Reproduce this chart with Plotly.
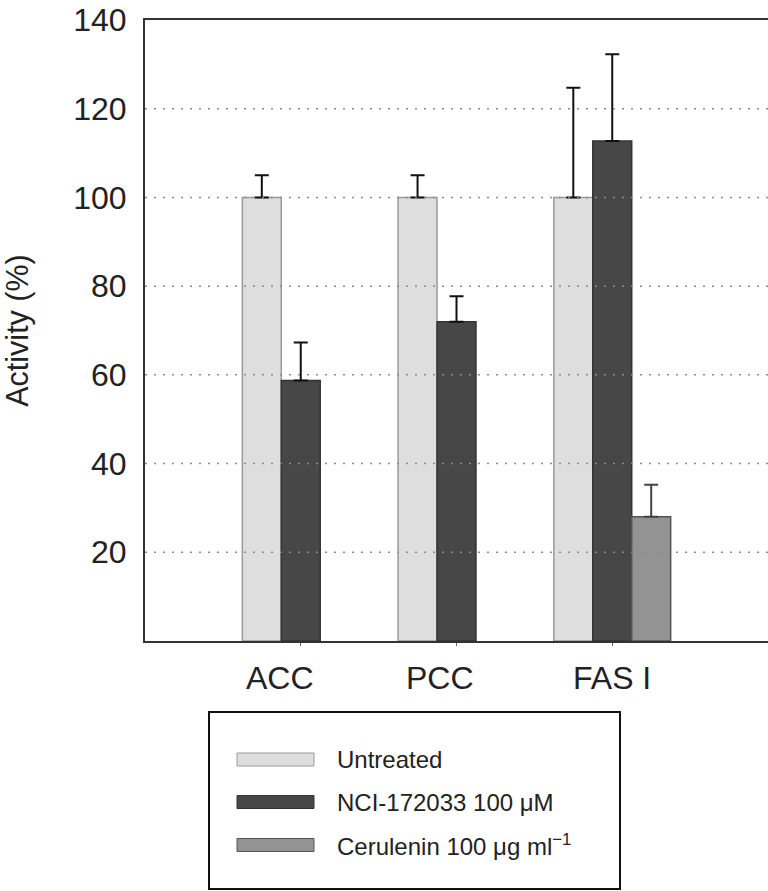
"""
Enzyme activity bar chart (ACC, PCC, FAS I) with one-sided error bars
"""
import plotly.graph_objects as go

enzymes = ["ACC", "PCC", "FAS I"]
series_names = ["Untreated", "NCI-172033 100 μM", "Cerulenin 100 μg ml<sup>−1</sup>"]

untreated = [100, 100, 100]
untreated_err = [5.0, 5.0, 24.7]
nci = [58.7, 72.0, 112.7]
nci_err = [8.6, 5.7, 19.6]
cerulenin = [None, None, 28.0]
cerulenin_err = [None, None, 7.2]

y_ticks = [20, 40, 60, 80, 100, 120, 140]

FONT = "Liberation Sans, Arial, Helvetica, sans-serif"
W, H = 768, 891
# plot area in pixels
PLOT_L, PLOT_R, PLOT_T, PLOT_B = 145, 768, 20, 641


def px_x(px):
    """pixel x -> paper x"""
    return (px - PLOT_L) / (PLOT_R - PLOT_L)


def px_y(py):
    """pixel y -> paper y"""
    return (PLOT_B - py) / (PLOT_B - PLOT_T)


styles = [
    {"fill": "#dedede", "edge": "#9a9a9a", "err": "#111111"},
    {"fill": "#474747", "edge": "#333333", "err": "#111111"},
    {"fill": "#939393", "edge": "#555555", "err": "#444444"},
]
values = [untreated, nci, cerulenin]
errors = [untreated_err, nci_err, cerulenin_err]

fig = go.Figure()
for name, vals, errs, st in zip(series_names, values, errors, styles):
    fig.add_bar(
        x=enzymes, y=vals, name=name, showlegend=False,
        marker={"color": st["fill"], "line": {"color": st["edge"], "width": 1.5}},
        error_y={"type": "data", "symmetric": False, "array": errs,
                 "arrayminus": [0] * len(errs), "color": st["err"],
                 "thickness": 2, "width": 7},
    )

shapes = []
# dotted grid lines drawn over the bars
for v in y_ticks[:-1]:
    shapes.append({"type": "line", "xref": "paper", "yref": "y", "x0": 0, "x1": 1,
                   "y0": v, "y1": v, "layer": "above",
                   "line": {"color": "#8a8a8a", "width": 1.5, "dash": "2px,7px"}})

annotations = []
# category labels sit a little left of the group centres in the original
label_shift = [-21, -17, 0]
for name, dx in zip(enzymes, label_shift):
    annotations.append({"xref": "x", "yref": "paper", "x": name, "y": 0,
                        "xanchor": "center", "yanchor": "middle", "xshift": dx, "yshift": -37,
                        "showarrow": False, "text": name,
                        "font": {"size": 32, "color": "#222222", "family": FONT}})

# hand-made legend box
shapes.append({"type": "rect", "xref": "paper", "yref": "paper",
               "x0": px_x(209), "x1": px_x(620), "y0": px_y(889), "y1": px_y(712),
               "line": {"color": "#111111", "width": 2}, "fillcolor": "white"})
row_y = [759.5, 802, 845]
for name, st, ry in zip(series_names, styles, row_y):
    shapes.append({"type": "rect", "xref": "paper", "yref": "paper",
                   "x0": px_x(237), "x1": px_x(314), "y0": px_y(ry + 6.5), "y1": px_y(ry - 6.5),
                   "fillcolor": st["fill"], "line": {"color": st["edge"], "width": 1}})
    annotations.append({"xref": "paper", "yref": "paper", "x": px_x(335), "y": px_y(ry),
                        "xanchor": "left", "yanchor": "middle", "showarrow": False,
                        "text": name, "font": {"size": 24, "color": "#222222", "family": FONT}})

fig.update_layout(
    width=W, height=H,
    margin={"l": PLOT_L, "r": W - PLOT_R, "t": PLOT_T, "b": H - PLOT_B, "autoexpand": False},
    plot_bgcolor="white", paper_bgcolor="white",
    barmode="group", bargap=0.25, bargroupgap=0,
    font={"family": FONT, "color": "#222222"},
    shapes=shapes, annotations=annotations,
)
fig.update_xaxes(
    type="category", range=[-1.0, 3.0], showgrid=False,
    showline=True, linecolor="#333333", linewidth=2, mirror=True,
    ticks="outside", ticklen=3, tickcolor="#666666", showticklabels=False,
)
fig.update_yaxes(
    range=[0, 140], tickvals=y_ticks, showgrid=False, zeroline=False,
    showline=True, linecolor="#333333", linewidth=2,
    ticks="", tickfont={"size": 32, "color": "#222222"}, ticklabelstandoff=10,
    ticklabeloverflow="allow",
    title={"text": "Activity (%)", "font": {"size": 30.5, "color": "#222222"}, "standoff": 38},
)

# drop the default page margin so the figure fills the window exactly
fig.write_html("out.html", config={"displayModeBar": False},
               post_script="document.body.style.margin = '0';")
